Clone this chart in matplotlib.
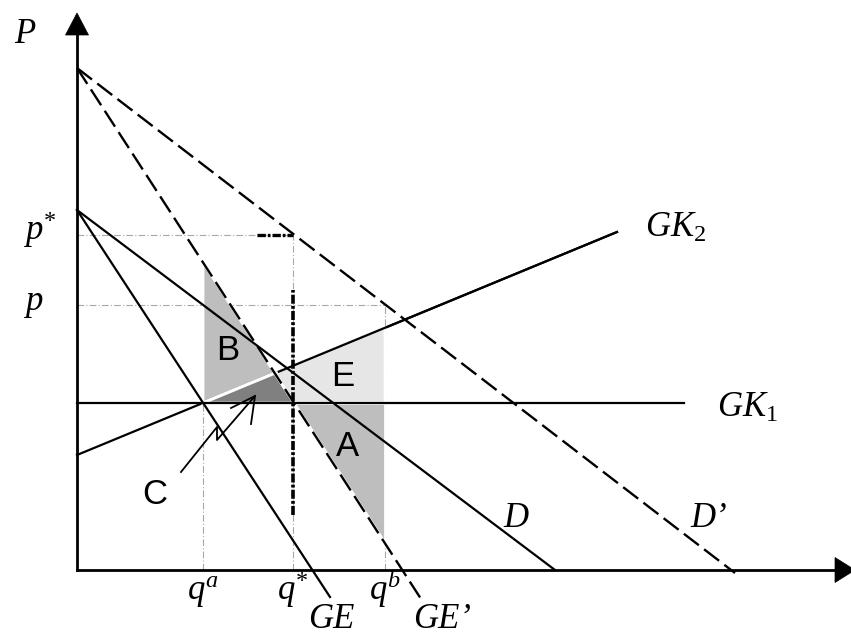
import numpy as np
import matplotlib
matplotlib.use('Agg')
import matplotlib.pyplot as plt
from matplotlib.patches import Polygon

plt.rcParams['mathtext.fontset'] = 'custom'
plt.rcParams['mathtext.it'] = 'Liberation Serif:italic'
plt.rcParams['mathtext.rm'] = 'Liberation Serif'
plt.rcParams['mathtext.cal'] = 'Liberation Serif:italic'

# ---------------- data (diagram units: quantity q, price P) ----------------
D_line   = [(0, 360), (478, 0)]
GE_line  = [(0, 360), (253, -27)]
Dp_line  = [(0, 502), (658, -3)]
GEp_line = [(0, 502), (346, -32)]
GK1_line = [(0, 167), (607, 167)]
GK2_line = [(0, 115), (540, 338)]
q_ticks  = [126, 216, 308]            # q^a, q*, q^b
q_labels = [r'$q^{a}$', r'$q^{*}$', r'$q^{b}$']
p_ticks  = [335, 265]                 # p*, p
p_labels = [r'$p^{*}$', r'$p$']
region_labels = ['B', 'C', 'E', 'A']

SERIF = 'Liberation Serif'
SANS = 'Liberation Sans'


def val(line, q):
    (x0, y0), (x1, y1) = line
    return y0 + (y1 - y0) * (q - x0) / (x1 - x0)


def q_at(line, p):
    (x0, y0), (x1, y1) = line
    return x0 + (x1 - x0) * (p - y0) / (y1 - y0)


def inter(l1, l2):
    (a0, b0), (a1, b1) = l1
    (c0, d0), (c1, d1) = l2
    m1 = (b1 - b0) / (a1 - a0)
    m2 = (d1 - d0) / (c1 - c0)
    q = (d0 - m2 * c0 - b0 + m1 * a0) / (m1 - m2)
    return q, b0 + m1 * (q - a0)


fig = plt.figure(figsize=(8.51, 6.37), dpi=100)
ax = fig.add_axes([0, 0, 1, 1])
ax.set_xlim(-77, 774)
ax.set_ylim(-67, 570)
ax.axis('off')

qa, qs, qb = q_ticks
ps, pp = p_ticks
gk = GK1_line[0][1]

# ---------------- guide lines ----------------
gcol = '#a8a8a8'
gls = (0, (6, 2, 1, 2))
ax.plot([0, qs], [ps, ps], color=gcol, lw=0.8, ls=gls, zorder=1)
ax.plot([0, qb], [pp, pp], color=gcol, lw=0.8, ls=gls, zorder=1)
ax.plot([qa, qa], [0, val(GEp_line, qa)], color=gcol, lw=0.8, ls=gls, zorder=1)
ax.plot([qs, qs], [0, ps], color=gcol, lw=0.8, ls=gls, zorder=1)
ax.plot([qb, qb], [0, pp], color=gcol, lw=0.8, ls=gls, zorder=1)
# thick segments
ax.plot([qs - 36, qs], [ps, ps], color='black', lw=2.4, ls=(0, (2.5, 0.6, 0.8, 0.6)), zorder=6)
ax.plot([qs, qs], [55, 280], color='black', lw=2.6, ls=(0, (2.5, 0.6, 0.8, 0.6)), zorder=6)

# ---------------- GK2 (under shading) ----------------
ax.plot(*zip(*GK2_line), color='black', lw=1.6, zorder=2)

# ---------------- shaded regions ----------------
X = inter(GK2_line, GEp_line)
qstar_pt = (q_at(GEp_line, gk), gk)
B = [(qa, val(GEp_line, qa)), (qa, val(GK2_line, qa)), X]
C = [(qa, gk), X, qstar_pt]
E = [X, qstar_pt, (qb, gk), (qb, val(GK2_line, qb))]
A = [qstar_pt, (qb, gk), (qb, val(GEp_line, qb))]
for poly, col in [(B, '#bebebe'), (C, '#808080'), (E, '#e6e6e6'), (A, '#bebebe')]:
    ax.add_patch(Polygon(poly, closed=True, facecolor=col, edgecolor='white',
                         lw=2.0, zorder=3))

# GK2 visible part above shading (from its crossing with GE')
ax.plot([X[0] + 4, GK2_line[1][0]], [val(GK2_line, X[0] + 4), GK2_line[1][1]],
        color='black', lw=1.6, zorder=4)

# ---------------- curves ----------------
ax.plot(*zip(*D_line), color='black', lw=1.6, zorder=4)
ax.plot(*zip(*GE_line), color='black', lw=1.6, zorder=4)
ax.plot(*zip(*GK1_line), color='black', lw=1.6, zorder=4)
ax.plot(*zip(*Dp_line), color='black', lw=1.7, ls=(0, (8, 2.8)), zorder=4)
ax.plot(*zip(*GEp_line), color='black', lw=1.7, ls=(0, (8, 2.8)), zorder=4)

# ---------------- axes with arrows ----------------
ax.plot([0, 0], [0, 540], color='black', lw=2.0, zorder=7)
ax.plot([0, 760], [0, 0], color='black', lw=2.0, zorder=7)
ax.add_patch(Polygon([(-11.5, 535), (11.5, 535), (0, 557)], closed=True,
                     facecolor='black', edgecolor='black', lw=0.5, zorder=7))
ax.add_patch(Polygon([(758, 12.5), (758, -12.5), (778, 0)], closed=True,
                     facecolor='black', edgecolor='black', lw=0.5, zorder=7))

# ---------------- C arrow (hand drawn) ----------------
ax.plot([104, 140, 140, 178], [98, 143, 130, 174], color='black', lw=1.3, zorder=8)
ax.plot([154, 178, 174], [162, 174, 146], color='black', lw=1.3, zorder=8)

# ---------------- labels ----------------
fs = 25
ax.text(-63, 527, 'P', family=SERIF, style='italic', fontsize=fs,
        ha='left', va='baseline')
for p, lab in zip(p_ticks, p_labels):
    ax.text(-54, p - 5, lab, fontsize=fs, ha='left', va='baseline')
for q, lab in zip(q_ticks, q_labels):
    ax.text(q - 16, -30, lab, fontsize=fs, ha='left', va='baseline')

ax.text(231, -58, 'GE', family=SERIF, style='italic', fontsize=fs,
        ha='left', va='baseline')
ax.text(336, -58, 'GE\u2019', family=SERIF, style='italic', fontsize=fs,
        ha='left', va='baseline')
ax.text(426, 43, 'D', family=SERIF, style='italic', fontsize=fs,
        ha='left', va='baseline')
ax.text(613, 43, 'D\u2019', family=SERIF, style='italic', fontsize=fs,
        ha='left', va='baseline')
ax.text(568, 333, r'$GK_{\mathit{2}}$', fontsize=fs, ha='left', va='baseline')
ax.text(640, 153, r'$GK_{\mathit{1}}$', fontsize=fs, ha='left', va='baseline')

label_pos = {'B': (151, 219), 'C': (78, 75), 'E': (266, 194), 'A': (271, 123)}
for lab in region_labels:
    x, y = label_pos[lab]
    ax.text(x, y, lab, family=SANS, fontsize=25, ha='center', va='center', zorder=9)

fig.savefig('out.png', dpi=100)
